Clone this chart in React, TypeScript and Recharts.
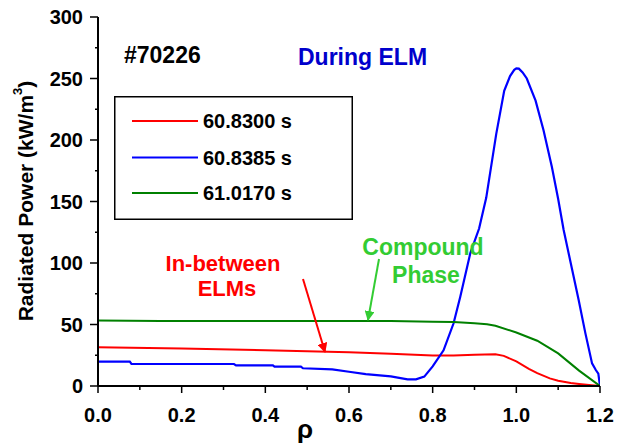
import React from 'react';
import { LineChart, Line, XAxis, YAxis, Legend } from 'recharts';

// rho positions and radiated power (kW/m^3)
const rhoRed = [0, 0.2, 0.4, 0.6, 0.7, 0.8, 0.85, 0.9, 0.95, 0.97, 1.0, 1.03, 1.05, 1.08, 1.1, 1.13, 1.15, 1.18, 1.2];
const powerRed = [31.5, 30.5, 29.0, 27.5, 26.2, 24.8, 24.8, 25.4, 25.8, 24.5, 20.0, 14.0, 10.5, 6.2, 4.3, 2.4, 1.6, 0.6, 0];

const rhoBlue = [0, 0.076, 0.08, 0.325, 0.33, 0.418, 0.422, 0.485, 0.49, 0.56, 0.6, 0.64, 0.7, 0.74, 0.76, 0.78, 0.8, 0.826, 0.85, 0.866, 0.89, 0.911, 0.928, 0.952, 0.971, 0.985, 0.995, 1.0, 1.006, 1.015, 1.025, 1.046, 1.065, 1.085, 1.1, 1.113, 1.13, 1.149, 1.165, 1.181, 1.19, 1.196, 1.2];
const powerBlue = [19.8, 19.8, 17.9, 17.9, 16.8, 16.8, 15.7, 15.7, 14.4, 13.5, 11.6, 9.7, 7.8, 5.4, 5.4, 7.6, 16, 29, 51, 72.6, 108, 128, 153, 205, 240, 252, 257, 258.3, 258, 255, 250, 232, 208, 178, 152, 127, 100, 70, 43, 18.4, 13, 10, 0];

const rhoGreen = [0, 0.15, 0.3, 0.5, 0.7, 0.8, 0.85, 0.9, 0.93, 0.95, 1.0, 1.05, 1.1, 1.15, 1.2];
const powerGreen = [53.2, 52.8, 52.8, 52.8, 52.8, 52.3, 52.0, 51.0, 50.2, 49.0, 43.5, 36.8, 26.5, 12.5, 0];

const xTicks = [0, 0.1, 0.2, 0.3, 0.4, 0.5, 0.6, 0.7, 0.8, 0.9, 1.0, 1.1, 1.2];
const yTicks = [0, 25, 50, 75, 100, 125, 150, 175, 200, 225, 250, 275, 300];

const toPoints = (xs: number[], ys: number[]) => xs.map((rho, i) => ({ rho, p: ys[i] }));
const redData = toPoints(rhoRed, powerRed);
const blueData = toPoints(rhoBlue, powerBlue);
const greenData = toPoints(rhoGreen, powerGreen);

const FONT = '"Liberation Sans", Arial, sans-serif';

const isMajorX = (v: number) => Math.round(v * 10) % 2 === 0;
const isMajorY = (v: number) => Math.round(v) % 50 === 0;

const BottomTick = (props: any) => {
  const { x, y, payload } = props;
  const major = isMajorX(payload.value);
  return (
    <g>
      <line x1={x} x2={x} y1={y} y2={y + (major ? 7 : 4)} stroke="#000" strokeWidth={1.5} />
      {major && (
        <text x={x} y={y + 36} textAnchor="middle" fontFamily={FONT} fontWeight="bold" fontSize={20} fill="#000">
          {payload.value.toFixed(1)}
        </text>
      )}
    </g>
  );
};

const TopTick = (props: any) => {
  const { x, y, payload } = props;
  const major = isMajorX(payload.value);
  return <line x1={x} x2={x} y1={y} y2={y - (major ? 8 : 4)} stroke="#000" strokeWidth={1.5} />;
};

const LeftTick = (props: any) => {
  const { x, y, payload } = props;
  const major = isMajorY(payload.value);
  return (
    <g>
      <line x1={x} x2={x - (major ? 8 : 3)} y1={y} y2={y} stroke="#000" strokeWidth={1.5} />
      {major && (
        <text x={x - 15} y={y + 7} textAnchor="end" fontFamily={FONT} fontWeight="bold" fontSize={20} fill="#000">
          {payload.value}
        </text>
      )}
    </g>
  );
};

const RightTick = (props: any) => {
  const { x, y } = props;
  return <line x1={x} x2={x - 2} y1={y} y2={y} stroke="#000" strokeWidth={1.5} />;
};

const LegendBox = (props: any) => {
  const items = props.payload || [];
  const rows = [25, 61.5, 97];
  return (
    <svg width={239} height={124} style={{ display: 'block' }}>
      <rect x={0.75} y={0.75} width={237.5} height={122.5} fill="#fff" stroke="#000" strokeWidth={1.5} />
      {items.map((e: any, i: number) => (
        <g key={e.value}>
          <line x1={18} x2={84} y1={rows[i]} y2={rows[i]} stroke={e.color} strokeWidth={2} />
          <text x={89} y={rows[i] + 7} fontFamily={FONT} fontWeight="bold" fontSize={20} fill="#000">
            {e.value}
          </text>
        </g>
      ))}
    </svg>
  );
};

export default function App() {
  return (
    <div style={{ position: 'absolute', left: 0, top: 0, width: 624, height: 447, background: '#fff' }}>
      <LineChart width={624} height={447} margin={{ top: 17, right: 24, left: 0, bottom: 0 }}>
        <XAxis
          dataKey="rho"
          type="number"
          domain={[0, 1.2]}
          allowDataOverflow
          ticks={xTicks}
          interval={0}
          height={61}
          tickSize={0}
          tickMargin={0}
          tickLine={false}
          tick={BottomTick}
          axisLine={{ stroke: '#000', strokeWidth: 2 }}
        />
        <XAxis
          xAxisId="top"
          orientation="top"
          type="number"
          domain={[0, 1.2]}
          allowDataOverflow
          ticks={xTicks}
          interval={0}
          height={0}
          tickSize={0}
          tickMargin={0}
          tickLine={false}
          tick={TopTick}
          axisLine={{ stroke: '#000', strokeWidth: 2 }}
        />
        <YAxis
          type="number"
          domain={[0, 300]}
          allowDataOverflow
          ticks={yTicks}
          interval={0}
          width={98}
          tickSize={0}
          tickMargin={0}
          tickLine={false}
          tick={LeftTick}
          axisLine={{ stroke: '#000', strokeWidth: 2 }}
        />
        <YAxis
          yAxisId="right"
          orientation="right"
          type="number"
          domain={[0, 300]}
          allowDataOverflow
          ticks={yTicks}
          interval={0}
          width={0}
          tickSize={0}
          tickMargin={0}
          tickLine={false}
          tick={RightTick}
          axisLine={{ stroke: '#000', strokeWidth: 2 }}
        />
        <Legend
          layout="vertical"
          align="center"
          verticalAlign="middle"
          content={LegendBox}
          wrapperStyle={{ position: 'absolute', left: 114, top: 96, width: 239, height: 124 }}
        />
        <Line data={redData} dataKey="p" name="60.8300 s" type="linear" stroke="#ff0000" strokeWidth={2} dot={false} isAnimationActive={false} />
        <Line data={blueData} dataKey="p" name="60.8385 s" type="linear" stroke="#0000ff" strokeWidth={2.2} dot={false} isAnimationActive={false} />
        <Line data={greenData} dataKey="p" name="61.0170 s" type="linear" stroke="#008000" strokeWidth={2} dot={false} isAnimationActive={false} />
      </LineChart>

      <svg width={624} height={447} style={{ position: 'absolute', left: 0, top: 0, pointerEvents: 'none' }}>
        <defs>
          <marker id="headRed" viewBox="0 0 10 10" refX="9" refY="5" markerWidth="5" markerHeight="5" orient="auto">
            <path d="M0,0 L10,5 L0,10 z" fill="#ff0000" />
          </marker>
          <marker id="headGreen" viewBox="0 0 10 10" refX="9" refY="5" markerWidth="5" markerHeight="5" orient="auto">
            <path d="M0,0 L10,5 L0,10 z" fill="#33cc33" />
          </marker>
        </defs>
        <text x={25} y={201} transform="rotate(-90 25 201)" textAnchor="middle" dominantBaseline="central" fontFamily={FONT} fontWeight="bold" fontSize={21} fill="#000">
          Radiated Power (kW/m<tspan dy={-8} fontSize={13}>3</tspan><tspan dy={8}>)</tspan>
        </text>
        <text x={305} y={438} textAnchor="middle" fontFamily={FONT} fontWeight="bold" fontSize={26} fill="#000">ρ</text>
        <text x={124} y={63} fontFamily={FONT} fontWeight="bold" fontSize={23} fill="#000">#70226</text>
        <text x={298} y={65} fontFamily={FONT} fontWeight="bold" fontSize={23} fill="#0000cc">During ELM</text>
        <text x={223} y={271} textAnchor="middle" fontFamily={FONT} fontWeight="bold" fontSize={22} fill="#ff0000">In-between</text>
        <text x={227} y={296} textAnchor="middle" fontFamily={FONT} fontWeight="bold" fontSize={22} fill="#ff0000">ELMs</text>
        <text x={423} y={255} textAnchor="middle" fontFamily={FONT} fontWeight="bold" fontSize={23} fill="#33cc33">Compound</text>
        <text x={426} y={283} textAnchor="middle" fontFamily={FONT} fontWeight="bold" fontSize={23} fill="#33cc33">Phase</text>
        <line x1={303} y1={279} x2={325} y2={352} stroke="#ff0000" strokeWidth={2} markerEnd="url(#headRed)" />
        <line x1={379} y1={259} x2={368} y2={320} stroke="#33cc33" strokeWidth={2} markerEnd="url(#headGreen)" />
      </svg>
    </div>
  );
}
